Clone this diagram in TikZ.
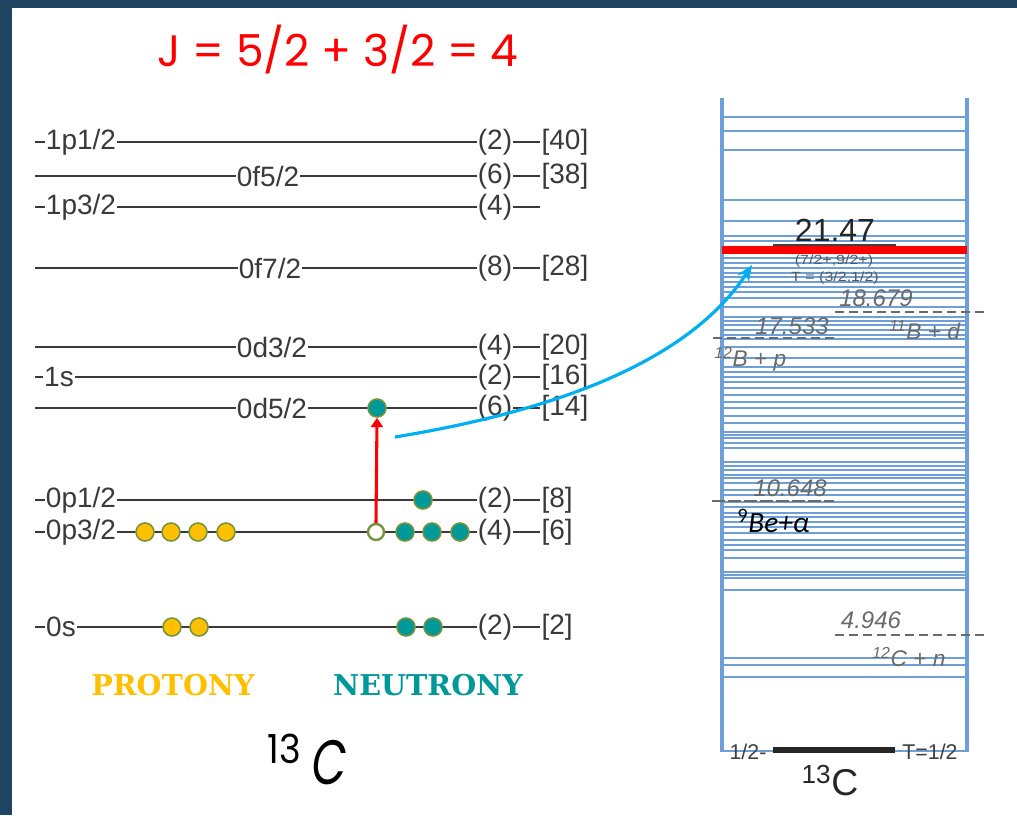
\documentclass[tikz,border=0pt]{standalone}
\usepackage{fontspec}
\setmainfont{Liberation Sans}
\newfontfamily\comicfont{Poppins}
\newfontfamily\comicslant[FakeSlant=0.2]{Poppins}
\newfontfamily\slabfont{DejaVu Serif}
\newfontfamily\calfont{Carlito}
\usetikzlibrary{arrows.meta}
\definecolor{framecol}{HTML}{1F4562}
\definecolor{shellcol}{HTML}{3A3A3A}
\definecolor{protcol}{HTML}{FFC000}
\definecolor{neutcol}{HTML}{009999}
\definecolor{rimcol}{HTML}{77933C}
\definecolor{lvlcol}{HTML}{6F9FD8}
\definecolor{arrcol}{HTML}{00B0F0}
\definecolor{graytxt}{HTML}{6A6A6A}
\tikzset{
  shellline/.style={draw=shellcol, line width=1.5pt},
  shelllab/.style={fill=white, inner sep=1pt, text=shellcol, font=\fontsize{21}{21}\selectfont},
  proton/.style={circle, fill=protcol, draw=rimcol, line width=1.2pt, minimum size=13.5pt, inner sep=0pt},
  neutron/.style={circle, fill=neutcol, draw=rimcol, line width=1.2pt, minimum size=13.5pt, inner sep=0pt},
  hole/.style={circle, fill=white, draw=rimcol, line width=1.8pt, minimum size=12pt, inner sep=0pt},
  lvl/.style={draw=lvlcol, line width=0.9pt},
  vbar/.style={draw=lvlcol, line width=3pt},
  sepline/.style={draw=graytxt, line width=1.6pt, dash pattern=on 7pt off 3.5pt},
  energy/.style={text=graytxt, font=\fontsize{18}{18}\selectfont\itshape, inner sep=0pt},
  chan/.style={text=graytxt, font=\fontsize{17}{17}\selectfont\itshape, inner sep=0pt, anchor=west},
}
\begin{document}
\begin{tikzpicture}[x=0.75pt,y=-0.75pt]
\useasboundingbox (0,0) rectangle (1017,815);
\fill[white] (0,0) rectangle (1017,815);
\fill[framecol] (0,0) rectangle (1017,8);
\fill[framecol] (0,0) rectangle (12,815);

% title
\node[text=red, font=\comicfont\fontsize{33}{33}\selectfont] (title) at (338,50) {J = 5/2 + 3/2 = 4};

% shell model levels
\foreach \yy/\lab/\lx/\deg/\br [count=\i] in {
  142/{1p1/2}/81/2/{[40]},
  176/{0f5/2}/268/6/{[38]},
  207/{1p3/2}/81/4/{},
  268/{0f7/2}/270/8/{[28]},
  347/{0d3/2}/272/4/{[20]},
  377/{1s}/59/2/{[16]},
  408/{0d5/2}/272/6/{[14]},
  500/{0p1/2}/81/2/{[8]},
  532/{0p3/2}/81/4/{[6]},
  627/{0s}/61/2/{[2]}}{
  \draw[shellline] (35,\yy) -- (540,\yy);
  \node[shelllab] (lab\i) at (\lx,\yy) {\lab};
  \node[shelllab] (deg\i) at (495,\yy) {(\deg)};
  \node[shelllab, anchor=west] (br\i) at (540,\yy) {\br};
}

% particles
\node[neutron] (n1) at (377,408) {};
\node[neutron] (n2) at (423,500) {};
\node[proton] (p1) at (145,532) {};
\node[proton] (p2) at (171,532) {};
\node[proton] (p3) at (198,532) {};
\node[proton] (p4) at (226,532) {};
\node[hole] (h1) at (376,532) {};
\node[neutron] (n3) at (405,532) {};
\node[neutron] (n4) at (432,532) {};
\node[neutron] (n5) at (460,532) {};
\node[proton] (p5) at (172,627) {};
\node[proton] (p6) at (199,627) {};
\node[neutron] (n6) at (406,627) {};
\node[neutron] (n7) at (433,627) {};

\draw[red, line width=2.3pt, -{Triangle[length=7pt,width=9pt]}] (h1.north) -- (n1.south);

% labels
\node[text=protcol, font=\slabfont\bfseries\fontsize{21.5}{21.5}\selectfont] (prot) at (173,685) {PROTONY};
\node[text=neutcol, font=\slabfont\bfseries\fontsize{21.5}{21.5}\selectfont] (neut) at (428,685) {NEUTRONY};
\node[anchor=base west, inner sep=0pt, xscale=0.92, font=\comicfont\fontsize{30}{30}\selectfont] (c13a) at (267,763) {13};
\node[anchor=base west, inner sep=0pt, xscale=0.72, font=\comicslant\fontsize{47}{47}\selectfont] (c13b) at (309,784) {C};

% level scheme
\foreach \yy in {117,131,150,200,221,236,241,258,263,268,273,277,282,287,292,298,307,317,321,325,330,335,339,347,358,367,372,377,382,388,395,402,408,416,423,432,435,438,443,448,462,466,470,475,478,483,490,495,502,507,513,517,522,527,533,540,545,550,558,572,575,578,590,658,665,677}{
  \draw[lvl] (722,\yy) -- (967,\yy);
}
\draw[lvl, line width=1.2pt] (722,751) -- (967,751);
\draw[vbar] (722,98) -- (722,752);
\draw[vbar] (967,98) -- (967,752);

\draw[red, line width=5.5pt] (722,250) -- (967,250);
\node[text=black!85, font=\fontsize{24}{24}\selectfont, inner sep=0pt] (e1) at (835,230) {21.47};
\draw[black!75, line width=0.8pt] (773,245) -- (896,245);
\node[text=black!65, xscale=1.2, font=\fontsize{10}{10}\selectfont, inner sep=0pt] (jp) at (834,261) {(7/2+,9/2+)};
\node[text=black!65, xscale=1.2, font=\fontsize{10}{10}\selectfont, inner sep=0pt] (tt) at (835,278) {T = (3/2,1/2)};

\node[energy] (e2) at (876,298) {18.679};
\draw[sepline] (835,312) -- (987,312);
\node[chan] (c2) at (889,330) {\textsuperscript{11}B + d};

\node[energy] (e3) at (792,326) {17.533};
\draw[sepline] (713,338) -- (834,338);
\node[chan] (c3) at (714,359) {\textsuperscript{12}B + p};

\node[energy] (e4) at (790,488) {10.648};
\draw[sepline, dash pattern=on 10pt off 2pt] (712,501) -- (834,501);
\node[anchor=west, inner sep=0pt, font=\calfont\itshape\fontsize{22}{22}\selectfont] (c4) at (737,521) {\textsuperscript{\upshape 9}Be+α};

\node[energy] (e5) at (871,620) {4.946};
\draw[sepline] (835,635) -- (987,635);
\node[chan] (c5) at (872,657) {\textsuperscript{12}C + n};

\draw[black!85, line width=3.8pt] (773,750) -- (895,750);
\node[text=black!75, font=\fontsize{16}{16}\selectfont, inner sep=0pt] (gj) at (748,752) {1/2-};
\node[text=black!75, font=\fontsize{16}{16}\selectfont, inner sep=0pt] (gt) at (930,752) {T=1/2};
\node[text=black!85, font=\fontsize{28}{28}\selectfont, inner sep=0pt] (nuc) at (830,781) {\textsuperscript{13}C};

% transition arrow
\coordinate (as) at (395,437);
\coordinate (ae) at (752,265);
\draw[arrcol, line width=2.4pt, -{Stealth[length=12pt,width=10pt]}] (as) .. controls (560,410) and (690,360) .. (ae);
\end{tikzpicture}
\end{document}
